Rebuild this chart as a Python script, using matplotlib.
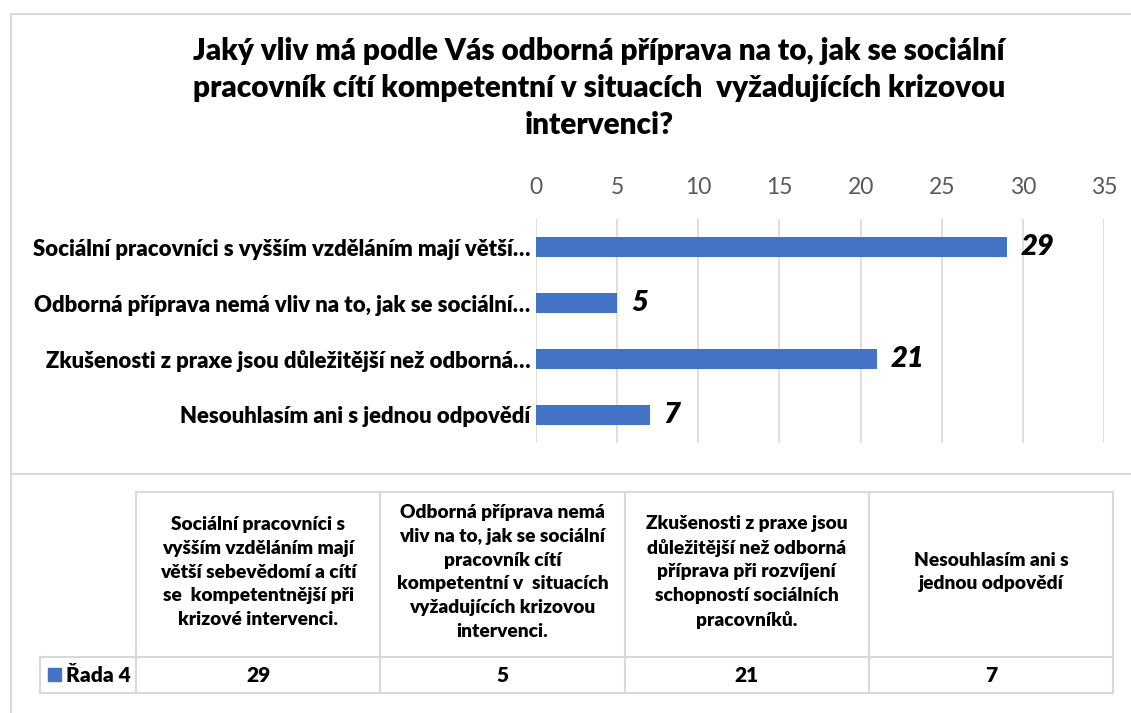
import numpy as np
import matplotlib
matplotlib.use("Agg")
import matplotlib.pyplot as plt

plt.rcParams['font.family'] = ['Lato', 'DejaVu Sans']

# data
title = ("Jaký vliv má podle Vás odborná příprava na to, jak se sociální\n"
         "pracovník cítí kompetentní v situacích  vyžadujících krizovou\n"
         "intervenci?")
axis_labels = [
    "Sociální pracovníci s vyšším vzděláním mají větší…",
    "Odborná příprava nemá vliv na to, jak se sociální…",
    "Zkušenosti z praxe jsou důležitější než odborná…",
    "Nesouhlasím ani s jednou odpovědí",
]
table_headers = [
    "Sociální pracovníci s\nvyšším vzděláním mají\nvětší sebevědomí a cítí\nse  kompetentnější při\nkrizové intervenci.",
    "Odborná příprava nemá\nvliv na to, jak se sociální\npracovník cítí\nkompetentní v  situacích\nvyžadujících krizovou\nintervenci.",
    "Zkušenosti z praxe jsou\ndůležitější než odborná\npříprava při rozvíjení\nschopností sociálních\npracovníků.",
    "Nesouhlasím ani s\njednou odpovědí",
]
values = [29, 5, 21, 7]
series_name = "Řada 4"
x_ticks = [0, 5, 10, 15, 20, 25, 30, 35]

W, H = 1131, 713
BLUE = "#4472C4"
GRID = "#d9d9d9"
BOLD = "heavy"

fig = plt.figure(figsize=(W / 100, H / 100), dpi=100)

# background layer in pixel coordinates (frame + data table)
bg = fig.add_axes([0, 0, 1, 1])
bg.set_xlim(0, W)
bg.set_ylim(H, 0)
bg.axis("off")

# chart frame
bg.plot([11, 11], [14, H + 5], color=GRID, lw=1.5)
bg.plot([11, W + 5], [14, 14], color=GRID, lw=1.5)
bg.plot([11, W + 5], [474, 474], color=GRID, lw=1.5)

fig.text(599 / W, 1 - 88 / H, title, ha="center", va="center",
         fontsize=21.4, fontweight=BOLD, linespacing=1.38)

# bar chart
ax = fig.add_axes([536 / W, 1 - 443 / H, (1104 - 536) / W, (443 - 219) / H])
ax.patch.set_alpha(0)
y = np.arange(len(values))
ax.barh(y, values, height=0.35, color=BLUE, zorder=3)
ax.set_xlim(0, 35)
ax.set_ylim(len(values) - 0.5, -0.5)
ax.set_xticks(x_ticks)
ax.xaxis.tick_top()
ax.tick_params(axis="x", length=0, pad=15, labelsize=16.5, labelcolor="#595959")
ax.set_yticks(y)
ax.set_yticklabels(axis_labels, fontsize=15.9, fontweight=BOLD)
ax.tick_params(axis="y", length=0, pad=4)
ax.grid(axis="x", color=GRID, lw=1.2, zorder=0)
for s in ax.spines.values():
    s.set_visible(False)
for yi, v in zip(y, values):
    ax.text(v + 0.85, yi, str(v), va="center", ha="left", fontsize=21,
            fontweight=BOLD, fontstyle="italic")

# data table under the chart
col_edges = np.linspace(136, 1113, len(values) + 1)
top, mid, bot, leg_left = 492, 657, 693, 40
bg.plot([col_edges[0], col_edges[-1]], [top, top], color=GRID, lw=1.5)
bg.plot([leg_left, col_edges[-1]], [mid, mid], color=GRID, lw=1.5)
bg.plot([leg_left, col_edges[-1]], [bot, bot], color=GRID, lw=1.5)
for xe in col_edges:
    bg.plot([xe, xe], [top, bot], color=GRID, lw=1.5)
bg.plot([leg_left, leg_left], [mid, bot], color=GRID, lw=1.5)

for i, (hdr, v) in enumerate(zip(table_headers, values)):
    cx = (col_edges[i] + col_edges[i + 1]) / 2
    bg.text(cx, 572, hdr, ha="center", va="center", fontsize=13.8,
            fontweight=BOLD, linespacing=1.48)
    bg.text(cx, 675, str(v), ha="center", va="center", fontsize=15,
            fontweight=BOLD)

bg.add_patch(plt.Rectangle((48, 668), 13, 13, color=BLUE))
bg.text(66, 675, series_name, ha="left", va="center", fontsize=15,
        fontweight=BOLD)

fig.savefig("out.png", dpi=100)
